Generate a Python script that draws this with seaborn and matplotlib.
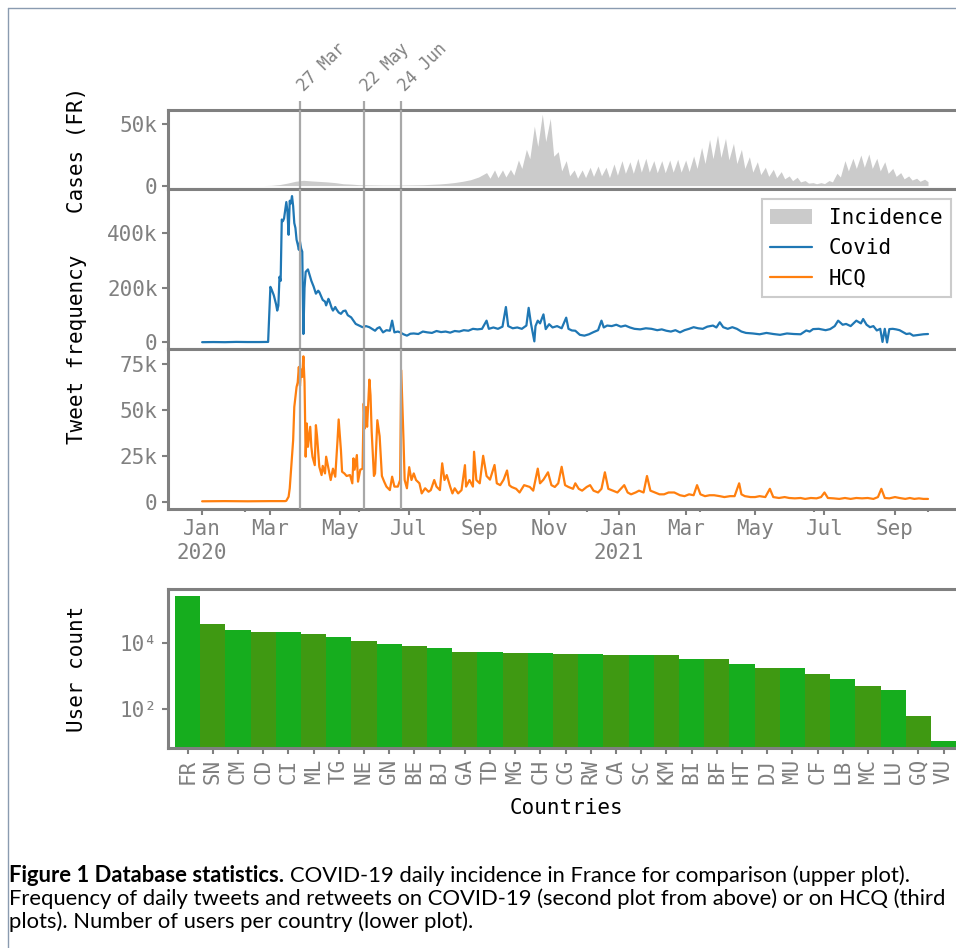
import numpy as np
import pandas as pd
import matplotlib
matplotlib.use("Agg")
import matplotlib.pyplot as plt
import matplotlib.dates as mdates
from matplotlib import font_manager
from matplotlib.ticker import FuncFormatter, MultipleLocator, NullLocator
from matplotlib.patches import Patch
from matplotlib.lines import Line2D
import seaborn as sns

# ---- data ----
start = pd.Timestamp("2020-01-01")   # day 0 of the day-offset arrays

# COVID-19 daily incidence in France (thousands)
inc_early_day = [54, 61, 68, 75, 82, 89, 96, 103, 110, 117,
                 124, 131, 138, 145, 152, 159, 166, 173, 180, 187,
                 194, 201, 208, 215, 222, 229, 236, 243]
inc_early_k = [0.0, 0.2, 0.8, 2.0, 3.5, 4.3, 3.8, 3.4, 3.0, 2.4,
               1.5, 1.2, 0.7, 0.6, 0.5, 0.4, 0.4, 0.4, 0.5, 0.6,
               0.7, 1.0, 1.3, 1.8, 2.5, 3.5, 4.8, 7.0]
# weekly peaks from 2020-09-07 on, and the low three days after each peak
inc_peak_k = [10.6, 12.8, 12.8, 13.3, 20.9, 29.6, 48.6, 58.4, 54.9, 27.7,
              20.4, 12.8, 12.8, 15.0, 16.0, 15.0, 17.7, 20.4, 19.5, 22.3,
              22.3, 20.4, 20.4, 20.9, 21.5, 20.9, 24.2, 31.2, 37.8, 41.3,
              38.6, 34.5, 29.6, 23.6, 19.5, 15.0, 13.3, 11.4, 7.9, 6.8,
              4.1, 2.4, 2.4, 4.1, 10.1, 20.4, 22.3, 25.0, 25.8, 22.3,
              19.5, 14.1, 10.6, 7.9, 6.0, 5.2]
inc_low_k = [6.0, 6.5, 7.0, 8.5, 14.0, 22.0, 32.0, 36.0, 24.0, 12.0,
             8.0, 6.0, 6.5, 7.5, 8.0, 6.5, 8.5, 10.0, 10.0, 11.0,
             11.0, 10.5, 10.5, 11.0, 11.0, 11.5, 14.0, 18.0, 22.0, 23.0,
             21.0, 18.0, 14.0, 11.0, 9.0, 7.5, 6.5, 5.5, 4.0, 3.0,
             2.0, 1.5, 1.6, 3.0, 7.0, 12.0, 14.0, 15.0, 14.0, 12.0,
             10.0, 7.5, 5.5, 4.5, 3.5, 3.2]

# daily tweets + retweets on COVID-19 (thousands)
covid_day = [0, 10, 20, 30, 40, 50, 58, 60, 61, 63,
             65, 66, 67, 68, 69, 70, 71, 72, 74, 75,
             76, 77, 78, 79, 80, 81, 82, 83, 84, 85,
             86, 87, 88, 89, 90, 91, 93, 95, 96, 98,
             100, 102, 103, 105, 106, 108, 109, 111, 112, 114,
             115, 117, 118, 120, 122, 124, 126, 128, 131, 133,
             135, 138, 141, 144, 147, 150, 152, 154, 156, 159,
             162, 165, 167, 169, 172, 174, 177, 180, 183, 186,
             190, 194, 198, 202, 206, 210, 214, 218, 222, 226,
             230, 234, 238, 242, 246, 250, 252, 256, 260, 264,
             267, 269, 273, 277, 281, 285, 287, 289, 292, 293,
             295, 297, 300, 302, 305, 308, 312, 316, 320, 322,
             325, 328, 332, 336, 340, 344, 348, 351, 353, 356,
             360, 364, 368, 372, 376, 380, 385, 390, 395, 400,
             404, 408, 412, 416, 420, 424, 428, 432, 436, 440,
             444, 449, 452, 455, 458, 462, 466, 470, 474, 478,
             484, 490, 496, 502, 508, 514, 520, 526, 531, 534,
             537, 542, 548, 552, 556, 559, 563, 566, 570, 575,
             579, 581, 584, 587, 590, 593, 596, 598, 600, 602,
             604, 607, 610, 613, 616, 619, 622, 625, 630, 634,
             638]
covid_k = [1, 1.5, 1, 2, 1.5, 1.5, 2, 204, 195, 173,
           140, 117, 135, 241, 226, 451, 445, 455, 515, 480,
           395, 520, 510, 537, 500, 438, 420, 377, 360, 340,
           370, 345, 333, 31, 200, 259, 268, 240, 226, 205,
           179, 190, 185, 165, 156, 150, 136, 160, 150, 125,
           117, 130, 122, 110, 105, 115, 117, 100, 92, 80,
           68, 62, 56, 60, 56, 48, 43, 52, 56, 37,
           45, 43, 80, 37, 40, 37, 30, 25, 32, 33,
           31, 40, 37, 35, 42, 38, 40, 36, 42, 40,
           45, 43, 50, 48, 50, 80, 50, 55, 50, 58,
           130, 60, 52, 55, 50, 62, 127, 70, 4, 60,
           80, 70, 103, 49, 67, 55, 60, 52, 91, 50,
           44, 43, 28, 25, 30, 38, 45, 80, 55, 62,
           60, 65, 58, 62, 55, 50, 48, 52, 50, 45,
           48, 43, 40, 45, 37, 45, 50, 56, 52, 50,
           58, 62, 55, 74, 56, 50, 56, 50, 40, 35,
           33, 30, 35, 31, 28, 33, 31, 30, 44, 40,
           49, 50, 45, 49, 60, 80, 65, 68, 60, 80,
           70, 86, 65, 56, 60, 44, 50, 2, 50, 0,
           49, 50, 48, 45, 38, 31, 33, 25, 28, 30,
           31]

# daily tweets + retweets on HCQ (thousands)
hcq_day = [0, 20, 40, 60, 73, 74, 76, 77, 80, 81,
           83, 84, 85, 86, 87, 88, 89, 90, 91, 92,
           93, 95, 96, 97, 99, 100, 101, 103, 105, 106,
           108, 109, 111, 113, 115, 117, 119, 120, 122, 123,
           125, 127, 130, 132, 133, 134, 136, 137, 139, 141,
           142, 143, 144, 145, 147, 148, 149, 151, 152, 154,
           156, 158, 160, 162, 165, 167, 169, 172, 174, 175,
           177, 178, 180, 182, 184, 186, 188, 191, 193, 196,
           199, 201, 204, 206, 209, 211, 213, 215, 218, 220,
           222, 225, 228, 231, 232, 235, 238, 239, 241, 244,
           247, 250, 253, 257, 259, 262, 265, 268, 270, 272,
           276, 279, 283, 288, 291, 295, 297, 300, 304, 307,
           310, 313, 316, 319, 322, 326, 328, 331, 334, 338,
           341, 344, 348, 351, 354, 357, 361, 365, 368, 371,
           374, 377, 381, 384, 388, 391, 394, 398, 402, 406,
           410, 415, 420, 424, 428, 432, 435, 438, 442, 446,
           450, 455, 459, 464, 468, 472, 474, 477, 482, 486,
           490, 495, 499, 502, 507, 512, 516, 521, 526, 530,
           535, 540, 544, 547, 550, 555, 560, 565, 570, 575,
           580, 585, 590, 594, 597, 600, 604, 609, 613, 618,
           622, 626, 630, 634, 638]
hcq_k = [0.2, 0.3, 0.2, 0.3, 0.3, 0.5, 2.7, 7.3, 33.5, 51.6,
         62.5, 65, 73.4, 63, 72, 68, 79.2, 65, 24.5, 42.6,
         29.9, 40.8, 29.9, 24.5, 19.9, 41.7, 35.7, 19, 14.5, 19.5,
         15.4, 24.5, 18, 11.8, 18, 13.6, 33.5, 44.8, 28, 16.3,
         15.4, 14, 14.5, 10, 23.6, 17.4, 25.4, 10.9, 17.4, 18,
         53.5, 39.9, 51.6, 40.8, 66.5, 58, 38.4, 14, 15.4, 44.4,
         35.7, 14, 10.9, 8.2, 6.3, 13.6, 8.2, 8.2, 11.8, 71.6,
         33.5, 11.8, 7.3, 18.8, 11.8, 15.4, 11.8, 10, 4.5, 7.3,
         5.4, 6.3, 11.8, 8.2, 6.3, 20.9, 11.8, 14.5, 8.2, 4.5,
         7.3, 4.5, 6.3, 19.9, 8.2, 11.8, 8.2, 27.2, 11.8, 10,
         25, 14, 12, 20, 10, 9, 12, 17, 9, 8,
         7, 5, 9, 8, 6, 18, 10, 12, 16, 9,
         8, 10, 19, 9, 8, 7, 10, 7, 6, 8,
         9, 6, 5, 7, 16, 7, 6, 5, 7, 9,
         5, 4, 5, 6, 5, 14, 6, 5, 4, 4,
         5, 5, 3.5, 3, 4, 3.5, 9, 4, 3, 3.5,
         3.5, 3, 2.5, 3, 3, 10, 4, 3, 2.5, 2.5,
         3, 2.5, 7, 2.5, 2, 2.5, 2, 1.8, 2, 1.5,
         2, 1.8, 2.5, 5, 2, 1.8, 1.5, 2, 1.5, 2,
         1.8, 2, 1.5, 2.5, 7, 2, 1.8, 2.5, 2, 1.5,
         2, 1.5, 1.8, 1.5, 1.5]

events = ["2020-03-27", "2020-05-22", "2020-06-24"]
event_labels = ["27 Mar", "22 May", "24 Jun"]

countries = ["FR", "SN", "CM", "CD", "CI", "ML", "TG", "NE", "GN", "BE",
             "BJ", "GA", "TD", "MG", "CH", "CG", "RW", "CA", "SC", "KM",
             "BI", "BF", "HT", "DJ", "MU", "CF", "LB", "MC", "LU", "GQ", "VU"]
users = [250000, 36000, 24000, 21000, 21000, 18000, 14800, 11200, 9100, 7900,
         6900, 5200, 5200, 4900, 4850, 4600, 4600, 4300, 4300, 4300,
         3200, 3200, 2300, 1740, 1740, 1150, 810, 500, 380, 63, 11]

# ---- style ----
sns.set_theme(style="ticks")
plt.rcParams["font.family"] = ["DejaVu Sans Mono"]
GRAY = "#808080"
VLINE = "#a8a8a8"
INC = "#cbcbcb"
BLUE = "#1f77b4"
ORANGE = "#ff7f0e"
GREEN_A = "#16ad1e"
GREEN_B = "#3f9912"
FS = 15

W, H = 956, 948
fig = plt.figure(figsize=(W / 100, H / 100), dpi=100)


def box(top, bottom, left=168, right=961):
    return [left / W, 1 - bottom / H, (right - left) / W, (bottom - top) / H]


ax1 = fig.add_axes(box(110, 189))
ax2 = fig.add_axes(box(189, 349), sharex=ax1)
ax3 = fig.add_axes(box(349, 509), sharex=ax1)
ax4 = fig.add_axes(box(589, 748))


def to_dates(days):
    return start + pd.to_timedelta(np.asarray(days, dtype=float), unit="D")


# incidence: early weekly values, then alternating weekly peak / low
peak_day = 250 + 7 * np.arange(len(inc_peak_k))
wave_day = np.column_stack([peak_day, peak_day + 3]).ravel()
wave_k = np.column_stack([inc_peak_k, inc_low_k]).ravel()
inc_dates = to_dates(np.concatenate([inc_early_day, wave_day]))
inc_vals = np.concatenate([inc_early_k, wave_k]) * 1000

ax1.fill_between(inc_dates, inc_vals, color=INC, lw=0)
sns.lineplot(x=to_dates(covid_day), y=np.array(covid_k) * 1000, ax=ax2,
             color=BLUE, lw=1.6, estimator=None)
sns.lineplot(x=to_dates(hcq_day), y=np.array(hcq_k) * 1000, ax=ax3,
             color=ORANGE, lw=1.6, estimator=None)

event_dates = [pd.Timestamp(e) for e in events]
for ax in (ax1, ax2, ax3):
    for d in event_dates:
        ax.axvline(d, color=VLINE, lw=1.6, zorder=3)

ax1.set_xlim(start - pd.Timedelta(days=30), start + pd.Timedelta(days=667))
ax1.set_ylim(-2800, 61800)
ax2.set_ylim(-24000, 563000)
ax3.set_ylim(-4000, 83200)


def kfmt(v, pos):
    return "0" if v == 0 else f"{int(round(v / 1000))}k"


def month_fmt(x, pos):
    d = mdates.num2date(x)
    return f"Jan\n{d.year}" if d.month == 1 else d.strftime("%b")


ax1.set_yticks([0, 50000])
ax2.set_yticks([0, 200000, 400000])
ax3.set_yticks([0, 25000, 50000, 75000])
for ax in (ax1, ax2, ax3):
    ax.yaxis.set_major_formatter(FuncFormatter(kfmt))
ax3.xaxis.set_major_locator(mdates.MonthLocator(bymonth=[1, 3, 5, 7, 9, 11]))
ax3.xaxis.set_minor_locator(MultipleLocator(100))
ax3.xaxis.set_major_formatter(FuncFormatter(month_fmt))

for ax in (ax1, ax2, ax3, ax4):
    for s in ax.spines.values():
        s.set_color(GRAY)
        s.set_linewidth(2.2)
    ax.tick_params(which="major", direction="out", length=4.5, width=1.5,
                   color=GRAY, labelcolor=GRAY, labelsize=FS, pad=3)
    ax.tick_params(which="minor", direction="out", length=2.5, width=1.5,
                   color=GRAY)
    ax.set_xlabel("")
    ax.set_ylabel("")
ax1.tick_params(axis="x", labelbottom=False)
ax2.tick_params(axis="x", labelbottom=False)
ax1.yaxis.set_minor_locator(NullLocator())
ax2.yaxis.set_minor_locator(NullLocator())
ax3.yaxis.set_minor_locator(NullLocator())

# event ticks on top of the first panel
sec = ax1.secondary_xaxis("top")
sec.set_xticks(mdates.date2num(event_dates), labels=event_labels)
sec.xaxis.set_minor_locator(NullLocator())
sec.spines["top"].set_visible(False)
sec.tick_params(axis="x", length=6.5, width=1.6, color=VLINE,
                labelcolor=GRAY, labelsize=12, pad=9)
plt.setp(sec.get_xticklabels(), rotation=45, ha="left", va="center",
         rotation_mode="anchor")

# legend
handles = [Patch(facecolor=INC, edgecolor="none", label="Incidence"),
           Line2D([], [], color=BLUE, lw=1.6, label="Covid"),
           Line2D([], [], color=ORANGE, lw=1.6, label="HCQ")]
leg = ax2.legend(handles=handles, loc="upper right", fontsize=FS,
                 frameon=True, fancybox=False, framealpha=1,
                 edgecolor="#cccccc", borderaxespad=0.5)
leg.get_frame().set_linewidth(1.5)
for t in leg.get_texts():
    t.set_color("black")

# users per country
ax4.set_yscale("log")
bar_colors = [GREEN_A if i % 2 == 0 else GREEN_B for i in range(len(countries))]
sns.barplot(x=countries, y=users, hue=countries, palette=bar_colors,
            legend=False, width=1.0, saturation=1, linewidth=0, ax=ax4)
ax4.set_xlim(-0.78, 30.69)
ax4.set_ylim(6.8, 4.1e5)
ax4.set_yticks([1e2, 1e4], labels=["10²", "10⁴"])
ax4.yaxis.set_minor_locator(NullLocator())
ax4.tick_params(axis="x", labelrotation=90)
ax4.set_xlabel("")
ax4.set_ylabel("")

# axis titles
fig.text(77 / W, 1 - 149.5 / H, "Cases (FR)", rotation=90, ha="center",
         va="center", fontsize=FS, color="black")
fig.text(77 / W, 1 - 349 / H, "Tweet frequency", rotation=90, ha="center",
         va="center", fontsize=FS, color="black")
fig.text(77 / W, 1 - 668.5 / H, "User count", rotation=90, ha="center",
         va="center", fontsize=FS, color="black")
fig.text(566 / W, 1 - 808 / H, "Countries", ha="center", va="center",
         fontsize=FS, color="black")

# page frame
frame = "#8a9bb0"
fig.add_artist(Line2D([8 / W, 8 / W], [0, 1 - 8 / H], transform=fig.transFigure,
                      color=frame, lw=1))
fig.add_artist(Line2D([8 / W, 1], [1 - 8 / H, 1 - 8 / H], transform=fig.transFigure,
                      color=frame, lw=1))

# caption
names = {f.name for f in font_manager.fontManager.ttflist}
cap_font = next((n for n in ["Liberation Sans Narrow", "Lato", "DejaVu Sans"]
                 if n in names), "DejaVu Sans")
line1a = "Figure 1 Database statistics."
line1b = "COVID-19 daily incidence in France for comparison (upper plot)."
line2 = "Frequency of daily tweets and retweets on COVID-19 (second plot from above) or on HCQ (third"
line3 = "plots). Number of users per country (lower plot)."

x0 = 9
t2 = fig.text(x0 / W, 1 - 899 / H, line2, family=cap_font, fontsize=12,
              va="center", color="black")
renderer = fig.canvas.get_renderer()
cap_size = 12 * 933 / t2.get_window_extent(renderer).width
t2.set_fontsize(cap_size)
t1 = fig.text(x0 / W, 1 - 876 / H, line1a, family=cap_font, fontsize=cap_size,
              weight="bold", va="center", color="black")
x1 = t1.get_window_extent(renderer).x1 + cap_size * 100 / 72 * 0.28
fig.text(x1 / W, 1 - 876 / H, line1b, family=cap_font, fontsize=cap_size,
         va="center", color="black")
fig.text(x0 / W, 1 - 922 / H, line3, family=cap_font, fontsize=cap_size,
         va="center", color="black")

fig.savefig("out.png", dpi=100)
